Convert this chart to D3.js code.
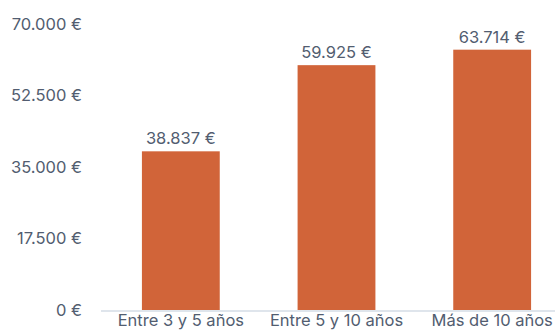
<!DOCTYPE html>
<html>
<head>
<meta charset="utf-8">
<script src="https://cdn.jsdelivr.net/npm/d3@7"></script>
<style>
  html, body { margin: 0; padding: 0; background: #fff; }
  svg { display: block; }
  svg text { font-family: Inter, "Noto Sans", sans-serif; font-size: 16.5px; }
</style>
</head>
<body>
<svg id="chart" width="555" height="331"></svg>
<script>
// Salario medio por antigüedad
const categories = ["Entre 3 y 5 años", "Entre 5 y 10 años", "Más de 10 años"];
const values = [38837, 59925, 63714];
const tickValues = [0, 17500, 35000, 52500, 70000];

const fmt = v => d3.format(",")(v).replace(/,/g, ".") + " €";

const svg = d3.select("#chart");
const textColor = "#525d70";

const x = d3.scaleBand().domain(categories).range([103, 570]).paddingInner(0.5).paddingOuter(0.25);
const y = d3.scaleLinear().domain([0, 70000]).range([310, 24]);

// y-axis labels
const yAxis = d3.axisLeft(y).tickValues(tickValues).tickFormat(fmt).tickSize(0).tickPadding(0);
const gy = svg.append("g").attr("transform", "translate(82,0)").call(yAxis);
gy.select(".domain").remove();
gy.attr("font-family", null).attr("font-size", null);
gy.selectAll("text").attr("fill", textColor);

// bars
svg.append("g").selectAll("rect").data(values).join("rect")
  .attr("x", (d, i) => x(categories[i]))
  .attr("width", x.bandwidth())
  .attr("y", d => y(d))
  .attr("height", d => y(0) - y(d))
  .attr("fill", "#d16439");

// baseline
svg.append("line").attr("x1", 101).attr("x2", 555).attr("y1", 311).attr("y2", 311)
  .attr("stroke", "#dfe5ec").attr("stroke-width", 2);

// value labels
svg.append("g").selectAll("text").data(values).join("text")
  .attr("x", (d, i) => x(categories[i]) + x.bandwidth() / 2)
  .attr("y", d => y(d) - 7)
  .attr("text-anchor", "middle")
  .attr("fill", textColor)
  .text(fmt);

// category labels
const xAxis = d3.axisBottom(x).tickSize(0).tickPadding(0);
const gx = svg.append("g").attr("transform", "translate(0,314)").call(xAxis);
gx.select(".domain").remove();
gx.attr("font-family", null).attr("font-size", null);
gx.selectAll("text").attr("fill", textColor);
</script>
</body>
</html>
